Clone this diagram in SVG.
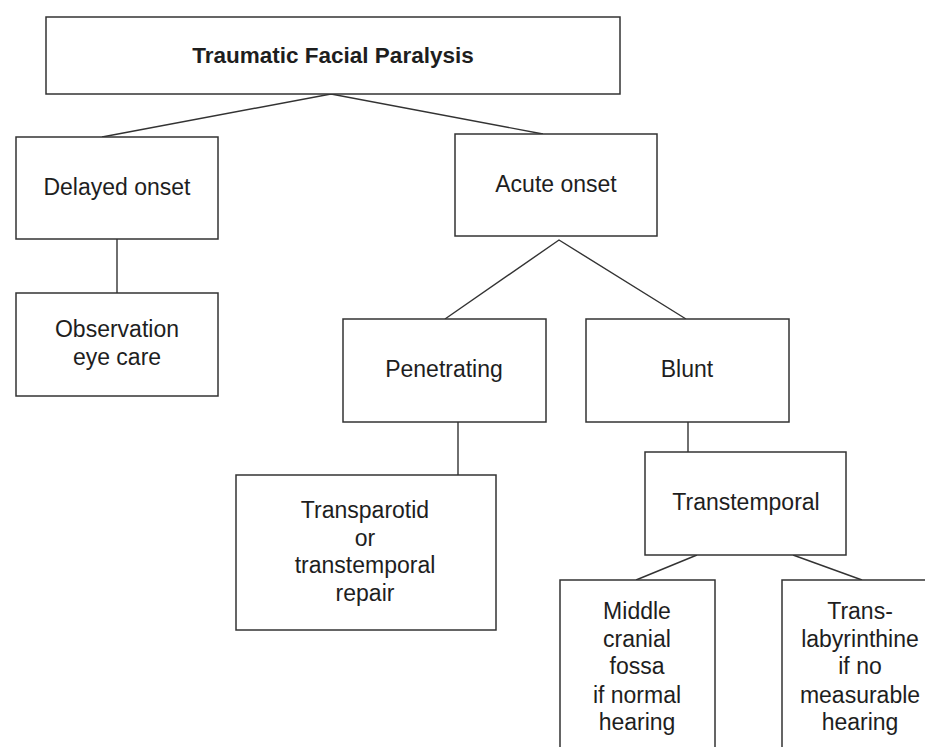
<svg xmlns="http://www.w3.org/2000/svg" width="925" height="747" viewBox="0 0 925 747">
<style>
.box{fill:#fff;stroke:#333;stroke-width:1.5}
.ln{stroke:#333;stroke-width:1.4;fill:none}
text{font-family:"Liberation Sans",Arial,sans-serif;font-size:23px;fill:#1e1e1e;text-anchor:middle}
.b{font-weight:bold;font-size:22.5px}
</style>
<rect width="925" height="747" fill="#fff"/>
<g id="connectors">
<polyline class="ln" points="102,137 331,94 543,134"/>
<line class="ln" x1="117" y1="239" x2="117" y2="293"/>
<polyline class="ln" points="445,319 559,240 686,319"/>
<line class="ln" x1="458" y1="422" x2="458" y2="475"/>
<line class="ln" x1="688" y1="422" x2="688" y2="452"/>
<line class="ln" x1="697" y1="555" x2="636" y2="580"/>
<line class="ln" x1="793" y1="555" x2="862" y2="580"/>
</g>
<g id="n-root"><rect class="box" x="46" y="17" width="574" height="77"/><text class="b" x="333" y="63">Traumatic Facial Paralysis</text></g>
<g id="n-delayed"><rect class="box" x="16" y="137" width="202" height="102"/><text x="117" y="195">Delayed onset</text></g>
<g id="n-acute"><rect class="box" x="455" y="134" width="202" height="102"/><text x="556" y="192">Acute onset</text></g>
<g id="n-observation"><rect class="box" x="16" y="293" width="202" height="103"/><text x="117" y="337">Observation</text><text x="117" y="365">eye care</text></g>
<g id="n-penetrating"><rect class="box" x="343" y="319" width="203" height="103"/><text x="444" y="377">Penetrating</text></g>
<g id="n-blunt"><rect class="box" x="586" y="319" width="203" height="103"/><text x="687" y="377">Blunt</text></g>
<g id="n-transparotid"><rect class="box" x="236" y="475" width="260" height="155"/><text x="365" y="518">Transparotid</text><text x="365" y="546">or</text><text x="365" y="573">transtemporal</text><text x="365" y="601">repair</text></g>
<g id="n-transtemporal"><rect class="box" x="645" y="452" width="201" height="103"/><text x="746" y="510">Transtemporal</text></g>
<g id="n-middle"><rect class="box" x="560" y="580" width="155" height="200"/><text x="637" y="619">Middle</text><text x="637" y="647">cranial</text><text x="637" y="674">fossa</text><text x="637" y="703">if normal</text><text x="637" y="730">hearing</text></g>
<g id="n-translab"><rect class="box" x="782" y="580" width="170" height="200"/><text x="860" y="619">Trans-</text><text x="860" y="647">labyrinthine</text><text x="860" y="674">if no</text><text x="860" y="703">measurable</text><text x="860" y="730">hearing</text></g>
</svg>
